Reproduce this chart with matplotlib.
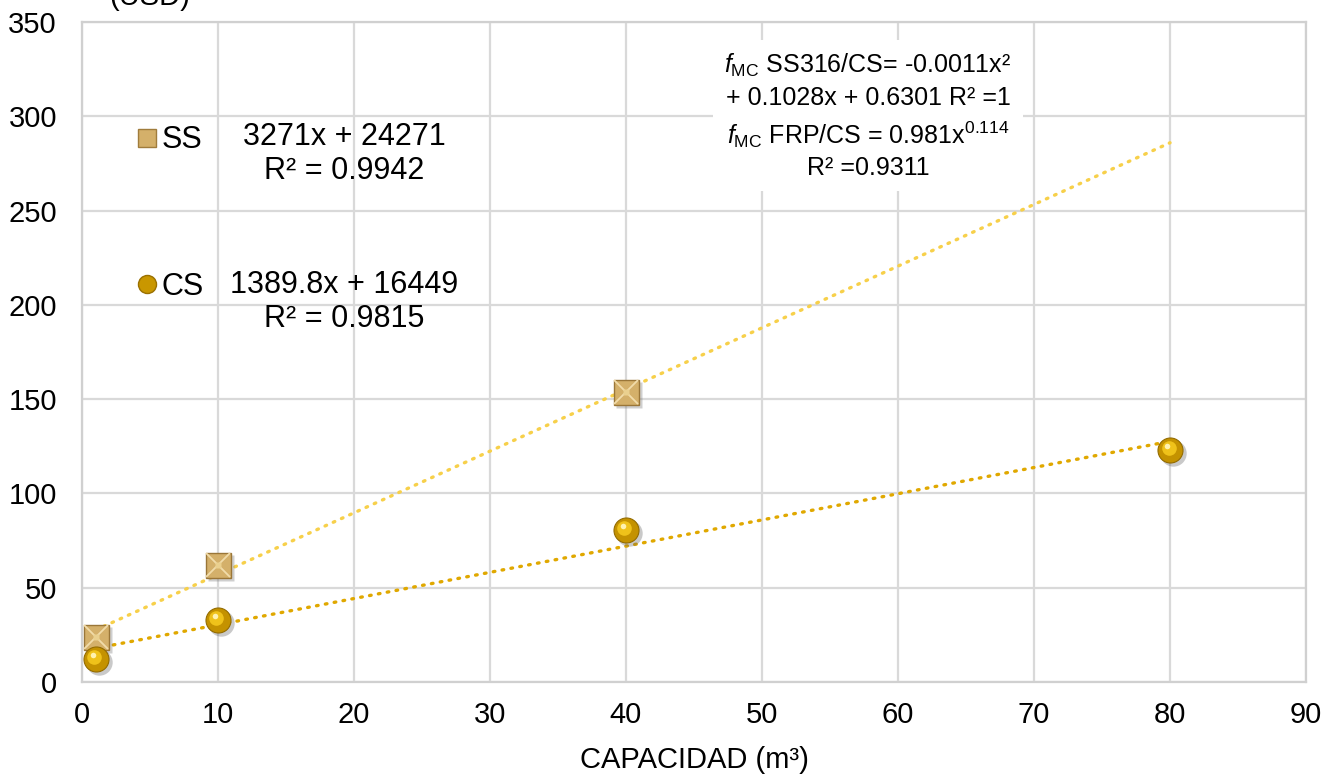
import matplotlib
matplotlib.use("Agg")
import matplotlib.pyplot as plt
from matplotlib.lines import Line2D
import matplotlib.transforms as mtrans
import numpy as np

plt.rcParams['font.family'] = ['Liberation Sans', 'DejaVu Sans']
plt.rcParams['mathtext.fontset'] = 'custom'
plt.rcParams['mathtext.rm'] = 'Liberation Sans'
plt.rcParams['mathtext.it'] = 'Liberation Sans:italic'
plt.rcParams['mathtext.bf'] = 'Liberation Sans:bold'

# Data (thousands of USD)
ss_x = [1, 10, 40]
ss_y = [24, 62, 154]
cs_x = [1, 10, 40, 80]
cs_y = [12, 33, 80.5, 123]

# Trendline coefficients (per thousand USD)
ss_slope, ss_int = 3.271, 24.271
cs_slope, cs_int = 1.3898, 16.449
trend_range = [1, 80]

x_ticks = list(range(0, 91, 10))
y_ticks = list(range(0, 351, 50))

ss_label = "SS"
cs_label = "CS"
ss_eq = "3271x + 24271\nR² = 0.9942"
cs_eq = "1389.8x + 16449\nR² = 0.9815"
box_text = ("$\\mathit{f}_{\\mathrm{MC}}$ SS316/CS= -0.0011x²\n"
            "+ 0.1028x + 0.6301 R² =1\n"
            "$\\mathit{f}_{\\mathrm{MC}}$ FRP/CS = 0.981x$^{0.114}$\n"
            "R² =0.9311")

fig = plt.figure(figsize=(13.39, 7.77), dpi=100)
ax = fig.add_axes([0.0612, 0.1223, 0.9142, 0.8494])
ax.set_xlim(0, 90)
ax.set_ylim(0, 350)
ax.set_xticks(x_ticks)
ax.set_yticks(y_ticks)
ax.tick_params(length=0, labelsize=21)
ax.tick_params(axis='y', pad=18)
ax.tick_params(axis='x', pad=14)
ax.grid(True, color='#d9d9d9', linewidth=1.6)
ax.set_axisbelow(True)
for s in ax.spines.values():
    s.set_color('#d0d0d0')
    s.set_linewidth(1.6)

# trendlines
tx = np.array(trend_range, dtype=float)
ax.plot(tx, ss_slope * tx + ss_int, color='#f7d04a', lw=2.4, linestyle=(0, (0.5, 2.2)),
        dash_capstyle='round', zorder=2)
ax.plot(tx, cs_slope * tx + cs_int, color='#e0a800', lw=2.4, linestyle=(0, (0.5, 2.2)),
        dash_capstyle='round', zorder=2)

def shift(dx, dy):
    return ax.transData + mtrans.ScaledTranslation(dx / 100, dy / 100, fig.dpi_scale_trans)

def draw_square(x, y):
    ax.plot(x, y, 's', ms=19, color='#777777', alpha=0.35, mec='none', zorder=3,
            transform=shift(3, -3))
    ax.plot(x, y, 's', ms=18, mfc='#d4b06a', mec='#9a7638', mew=1.0, zorder=4)
    ax.plot(x, y, 'x', ms=17, mec='#f1dcaa', mew=1.3, zorder=5)
    ax.plot(x, y, 's', ms=5, mfc='#ead08f', mec='none', zorder=5)

def draw_sphere(x, y):
    ax.plot(x, y, 'o', ms=19, color='#666666', alpha=0.35, mec='none', zorder=3,
            transform=shift(3, -3))
    ax.plot(x, y, 'o', ms=18, mfc='#c49200', mec='#946c00', mew=0.8, zorder=4)
    ax.plot(x, y, 'o', ms=10.5, mfc='#efc21a', mec='none', zorder=5, transform=shift(-1.5, 2))
    ax.plot(x, y, 'o', ms=4, mfc='#fff2b0', mec='none', zorder=6, transform=shift(-3, 4))

draw_square(ss_x, ss_y)
draw_sphere(cs_x, cs_y)

# legend
handles = [Line2D([], [], marker='s', ls='none', ms=13, mfc='#d4b06a', mec='#a07c3c'),
           Line2D([], [], marker='o', ls='none', ms=13, mfc='#c99700', mec='#9a7000')]
leg = ax.legend(handles, [ss_label, cs_label], loc='upper left',
                bbox_to_anchor=(0.036, 0.862), frameon=False, fontsize=22,
                handlelength=0.6, handletextpad=0.15, labelspacing=3.82,
                borderaxespad=0)

ax.text(19.3, 280, ss_eq, fontsize=22, ha='center', va='center', linespacing=1.18)
ax.text(19.3, 201.7, cs_eq, fontsize=22, ha='center', va='center', linespacing=1.18)

ax.text(57.8, 300, box_text, fontsize=18, ha='center', va='center', linespacing=1.36,
        bbox=dict(facecolor='white', edgecolor='none', pad=8), zorder=6)

ax.set_xlabel("CAPACIDAD (m³)", fontsize=21, labelpad=12)
fig.text(0.112, 0.9936, "(USD)", fontsize=21, ha='center', va='baseline')

fig.savefig("out.png", dpi=100)
